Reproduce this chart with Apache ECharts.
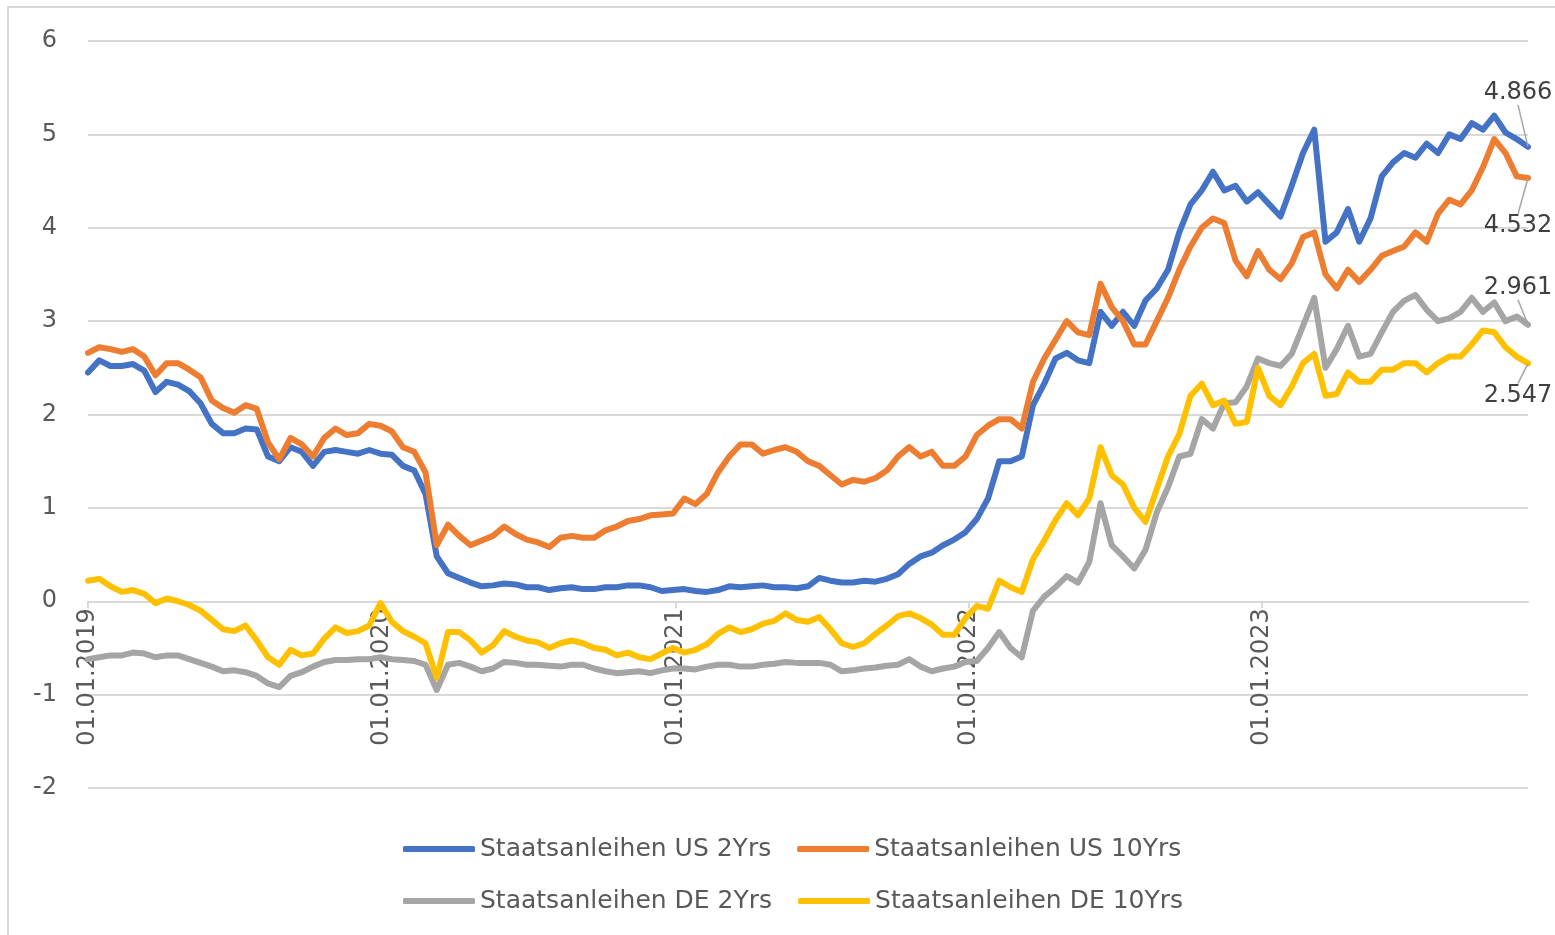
<!DOCTYPE html>
<html>
<head>
<meta charset="utf-8">
<script src="https://cdn.jsdelivr.net/npm/echarts@6/dist/echarts.min.js"></script>
<style>
  html, body { margin: 0; padding: 0; background: #fff; }
  #chart { width: 1555px; height: 935px; }
</style>
</head>
<body>
<div id="chart"></div>
<script>
  // sampled every 14 days starting 01.01.2019
  const startYear = 2019;
  const stepDays = 14;
  const yearLabels = [2019, 2020, 2021, 2022, 2023];
  const yTicks = { min: -2, max: 6, interval: 1 };
  const seriesNames = ["Staatsanleihen US 2Yrs", "Staatsanleihen US 10Yrs", "Staatsanleihen DE 2Yrs", "Staatsanleihen DE 10Yrs"];

  // prettier-ignore
  const usTwo = [2.45, 2.58, 2.52, 2.52, 2.54, 2.47, 2.24, 2.35, 2.32, 2.25,
    2.12, 1.90, 1.80, 1.80, 1.85, 1.84, 1.55, 1.50, 1.65, 1.60,
    1.45, 1.60, 1.62, 1.60, 1.58, 1.62, 1.58, 1.57, 1.45, 1.40,
    1.15, 0.48, 0.30, 0.25, 0.20, 0.16, 0.17, 0.19, 0.18, 0.15,
    0.15, 0.12, 0.14, 0.15, 0.13, 0.13, 0.15, 0.15, 0.17, 0.17,
    0.15, 0.11, 0.12, 0.13, 0.11, 0.10, 0.12, 0.16, 0.15, 0.16,
    0.17, 0.15, 0.15, 0.14, 0.16, 0.25, 0.22, 0.20, 0.20, 0.22,
    0.21, 0.24, 0.29, 0.40, 0.48, 0.52, 0.60, 0.66, 0.74, 0.88,
    1.10, 1.50, 1.50, 1.55, 2.10, 2.33, 2.60, 2.66, 2.58, 2.55,
    3.10, 2.95, 3.10, 2.95, 3.22, 3.35, 3.55, 3.95, 4.25, 4.40,
    4.60, 4.40, 4.45, 4.28, 4.38, 4.25, 4.12, 4.45, 4.80, 5.05,
    3.85, 3.95, 4.20, 3.85, 4.10, 4.55, 4.70, 4.80, 4.75, 4.90,
    4.80, 5.00, 4.95, 5.12, 5.05, 5.20, 5.02, 4.95, 4.866];
  // prettier-ignore
  const usTen = [2.66, 2.72, 2.70, 2.67, 2.70, 2.62, 2.42, 2.55, 2.55, 2.48,
    2.40, 2.15, 2.07, 2.02, 2.10, 2.06, 1.70, 1.52, 1.75, 1.68,
    1.55, 1.75, 1.85, 1.78, 1.80, 1.90, 1.88, 1.82, 1.65, 1.60,
    1.38, 0.60, 0.82, 0.70, 0.60, 0.65, 0.70, 0.80, 0.72, 0.66,
    0.63, 0.58, 0.68, 0.70, 0.68, 0.68, 0.76, 0.80, 0.86, 0.88,
    0.92, 0.93, 0.94, 1.10, 1.04, 1.15, 1.38, 1.55, 1.68, 1.68,
    1.58, 1.62, 1.65, 1.60, 1.50, 1.45, 1.35, 1.25, 1.30, 1.28,
    1.32, 1.40, 1.55, 1.65, 1.55, 1.60, 1.45, 1.45, 1.55, 1.78,
    1.88, 1.95, 1.95, 1.85, 2.35, 2.60, 2.80, 3.00, 2.88, 2.85,
    3.40, 3.15, 3.00, 2.75, 2.75, 3.00, 3.25, 3.55, 3.80, 4.00,
    4.10, 4.05, 3.65, 3.48, 3.75, 3.55, 3.45, 3.62, 3.90, 3.95,
    3.50, 3.35, 3.55, 3.42, 3.55, 3.70, 3.75, 3.80, 3.95, 3.85,
    4.15, 4.30, 4.25, 4.40, 4.65, 4.95, 4.80, 4.55, 4.532];
  // prettier-ignore
  const deTwo = [-0.62, -0.60, -0.58, -0.58, -0.55, -0.56, -0.60, -0.58, -0.58, -0.62,
    -0.66, -0.70, -0.75, -0.74, -0.76, -0.80, -0.88, -0.92, -0.80, -0.76,
    -0.70, -0.65, -0.63, -0.63, -0.62, -0.62, -0.60, -0.62, -0.63, -0.64,
    -0.68, -0.95, -0.68, -0.66, -0.70, -0.75, -0.72, -0.65, -0.66, -0.68,
    -0.68, -0.69, -0.70, -0.68, -0.68, -0.72, -0.75, -0.77, -0.76, -0.75,
    -0.77, -0.74, -0.72, -0.72, -0.73, -0.70, -0.68, -0.68, -0.70, -0.70,
    -0.68, -0.67, -0.65, -0.66, -0.66, -0.66, -0.68, -0.75, -0.74, -0.72,
    -0.71, -0.69, -0.68, -0.62, -0.70, -0.75, -0.72, -0.70, -0.65, -0.64,
    -0.50, -0.33, -0.50, -0.60, -0.10, 0.05, 0.15, 0.27, 0.20, 0.42,
    1.05, 0.60, 0.48, 0.35, 0.55, 0.95, 1.22, 1.55, 1.58, 1.95,
    1.85, 2.12, 2.13, 2.30, 2.60, 2.55, 2.52, 2.65, 2.95, 3.25,
    2.50, 2.70, 2.95, 2.62, 2.65, 2.88, 3.10, 3.22, 3.28, 3.12,
    3.00, 3.03, 3.10, 3.25, 3.10, 3.20, 3.00, 3.05, 2.961];
  // prettier-ignore
  const deTen = [0.22, 0.24, 0.16, 0.10, 0.12, 0.08, -0.02, 0.03, 0.00, -0.04,
    -0.10, -0.20, -0.30, -0.32, -0.26, -0.42, -0.60, -0.68, -0.52, -0.58,
    -0.56, -0.40, -0.28, -0.34, -0.32, -0.26, -0.02, -0.22, -0.32, -0.38,
    -0.45, -0.82, -0.33, -0.33, -0.42, -0.55, -0.47, -0.32, -0.38, -0.42,
    -0.44, -0.50, -0.45, -0.42, -0.45, -0.50, -0.52, -0.58, -0.55, -0.60,
    -0.62, -0.56, -0.50, -0.55, -0.52, -0.46, -0.35, -0.28, -0.33, -0.30,
    -0.24, -0.21, -0.13, -0.20, -0.22, -0.17, -0.30, -0.45, -0.49, -0.45,
    -0.35, -0.26, -0.16, -0.13, -0.18, -0.25, -0.36, -0.36, -0.18, -0.05,
    -0.08, 0.22, 0.15, 0.10, 0.45, 0.65, 0.87, 1.05, 0.92, 1.10,
    1.65, 1.35, 1.25, 1.00, 0.85, 1.20, 1.55, 1.79, 2.20, 2.33,
    2.10, 2.15, 1.90, 1.92, 2.50, 2.20, 2.10, 2.30, 2.55, 2.65,
    2.20, 2.22, 2.45, 2.35, 2.35, 2.48, 2.48, 2.55, 2.55, 2.45,
    2.55, 2.62, 2.62, 2.75, 2.90, 2.88, 2.72, 2.62, 2.547];

  const dayMs = 86400000;
  const start = Date.UTC(startYear, 0, 1);
  // x position of each sample, in days since 01.01.2019
  const days = usTwo.map((v, i) => i * stepDays);
  const yearDays = yearLabels.map((y) => Math.round((Date.UTC(y, 0, 1) - start) / dayMs));

  const colors = ["#4472C4", "#ED7D31", "#A5A5A5", "#FFC000"];
  const allValues = [usTwo, usTen, deTwo, deTen];
  // where the end value label sits, relative to the last point
  const labelShift = [[-10, -54], [-10, 48], [-10, -37], [-10, 32]];

  const font = "DejaVu Sans";
  const gridTop = 41;
  const gridBottom = 147;
  const plotHeight = 935 - gridTop - gridBottom;
  // x axis (with its labels) sits on the zero line, like in excel
  const zeroOffset = (plotHeight * (0 - yTicks.min)) / (yTicks.max - yTicks.min);

  function buildData(values) {
    return values.map(function (v, i) {
      if (i === values.length - 1) {
        return {
          value: [days[i], v],
          symbol: "circle",
          symbolSize: 1,
          label: { show: true },
        };
      }
      return [days[i], v];
    });
  }

  let chart = echarts.init(document.getElementById("chart"));

  let option = {
    animation: false,
    color: colors,
    graphic: [
      {
        type: "rect",
        shape: { x: 8, y: 7, width: 1600, height: 1000 },
        style: { fill: "none", stroke: "#D9D9D9", lineWidth: 2 },
        silent: true,
      },
    ],
    grid: {
      left: 88,
      right: 27,
      top: gridTop,
      bottom: gridBottom,
    },
    legend: {
      data: seriesNames,
      left: 398,
      top: 831,
      width: 790,
      itemWidth: 72,
      itemHeight: 6,
      itemGap: 26,
      icon: "roundRect",
      textStyle: {
        fontFamily: font,
        fontSize: 25,
        color: "#595959",
        lineHeight: 26,
      },
    },
    xAxis: {
      type: "value",
      min: 0,
      max: days[days.length - 1],
      offset: -zeroOffset,
      axisLine: {
        onZero: false,
        lineStyle: { color: "#D9D9D9", width: 2 },
      },
      axisTick: {
        show: true,
        length: 7,
        customValues: yearDays,
        lineStyle: { color: "#D9D9D9", width: 2 },
      },
      axisLabel: {
        rotate: 90,
        margin: 7,
        customValues: yearDays,
        fontFamily: font,
        fontSize: 24,
        color: "#595959",
        formatter: function (value) {
          const d = new Date(start + value * dayMs);
          return "01.01." + d.getUTCFullYear();
        },
      },
      splitLine: { show: false },
    },
    yAxis: {
      type: "value",
      min: yTicks.min,
      max: yTicks.max,
      interval: yTicks.interval,
      axisLine: { show: false, onZero: false },
      axisTick: { show: false },
      axisLabel: {
        margin: 31,
        fontFamily: font,
        fontSize: 24,
        color: "#595959",
      },
      splitLine: {
        lineStyle: { color: "#D9D9D9", width: 2 },
      },
    },
    series: seriesNames.map(function (name, k) {
      return {
        name: name,
        type: "line",
        symbol: "none",
        showSymbol: true,
        data: buildData(allValues[k]),
        lineStyle: { width: 6, color: colors[k], join: "round", cap: "round" },
        itemStyle: { color: colors[k] },
        emphasis: { disabled: true },
        label: {
          position: "inside",
          fontFamily: font,
          fontSize: 24,
          color: "#404040",
          formatter: function (p) {
            return p.value[1].toFixed(3);
          },
        },
        labelLayout: { dx: labelShift[k][0], dy: labelShift[k][1] },
        labelLine: {
          show: true,
          lineStyle: { color: "#A6A6A6", width: 1.5 },
        },
      };
    }),
  };

  chart.setOption(option);
</script>
</body>
</html>
